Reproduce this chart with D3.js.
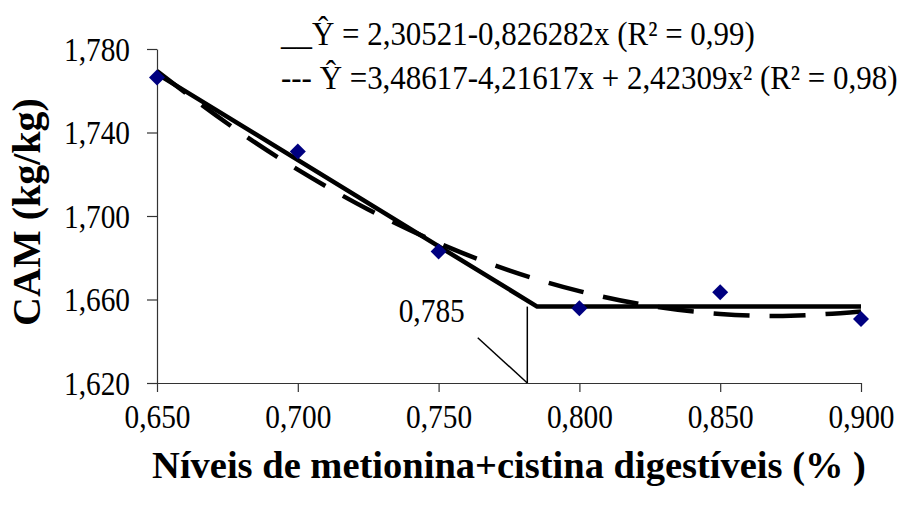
<!DOCTYPE html>
<html>
<head>
<meta charset="utf-8">
<script src="https://cdn.jsdelivr.net/npm/d3@7"></script>
<style>
  html, body { margin: 0; padding: 0; background: #fff; }
  svg { display: block; }
  text { font-family: "Liberation Serif", "Times New Roman", serif; fill: #000; }
</style>
</head>
<body>
<svg id="chart" width="904" height="510"></svg>
<script>
// ---- data ----
const levels = [0.650, 0.700, 0.750, 0.800, 0.850, 0.900];
const observedCAM = [1.7664, 1.7309, 1.6830, 1.6558, 1.6635, 1.6507];

const xTicks = [0.650, 0.700, 0.750, 0.800, 0.850, 0.900];
const yTicks = [1.620, 1.660, 1.700, 1.740, 1.780];

// linear-plateau fit (solid)
const plateauX = [0.650, 0.785, 0.900];
const plateauY = [1.7681, 1.6566, 1.6566];

// quadratic fit (dashed)
const quadX = [0.650, 0.675, 0.700, 0.725, 0.750, 0.775, 0.800, 0.825, 0.850, 0.875, 0.900];
const quadY = [1.7694, 1.7443, 1.7222, 1.7031, 1.6870, 1.6740, 1.6640, 1.6570, 1.6531, 1.6522, 1.6543];

const breakLabel = "0,785";
const breakMarkX = [0.7815, 0.7815];
const breakMarkY = [1.620, 1.6566];
const pointerX = [0.7639, 0.7815];
const pointerY = [1.6417, 1.620];

const legendLines = [
  "__\u0176 = 2,30521-0,826282x (R\u00B2 = 0,99)",
  "--- \u0176 =3,48617-4,21617x + 2,42309x\u00B2 (R\u00B2 = 0,98)"
];
const xTitle = "N\u00edveis de metionina+cistina digest\u00edveis (% )";
const yTitle = "CAM (kg/kg)";

// ---- drawing ----
const svg = d3.select("#chart");
const fmt = v => d3.format(".3f")(v).replace(".", ",");
const SX = 0.89; // horizontal condensing of the serif tick text

const x = d3.scaleLinear().domain([0.65, 0.90]).range([157, 861]);
const y = d3.scaleLinear().domain([1.62, 1.78]).range([383, 49]);

// axes
const xAxis = d3.axisBottom(x).tickValues(xTicks).tickFormat(fmt).tickSize(9).tickSizeOuter(0);
const yAxis = d3.axisLeft(y).tickValues(yTicks).tickFormat(fmt).tickSize(10).tickSizeOuter(0);

const gx = svg.append("g").attr("transform", `translate(0,${y(1.62)})`).call(xAxis);
const gy = svg.append("g").attr("transform", `translate(${x(0.65)},0)`).call(yAxis);

[gx, gy].forEach(g => {
  g.select(".domain").attr("stroke", "#333").attr("stroke-width", 1.2);
  g.selectAll(".tick line").attr("stroke", "#333").attr("stroke-width", 1.2);
  g.selectAll(".tick text")
    .style("font-family", '"Liberation Serif", serif')
    .style("font-size", "33px")
    .attr("fill", "#000")
    .attr("transform", `scale(${SX},1)`);
});
gx.selectAll(".tick text").attr("dy", "0").attr("y", 45).attr("x", 0);
gy.selectAll(".tick text").attr("x", -27 / SX).attr("dy", "0.34em");

// linear plateau (solid)
const line = d3.line().x(d => x(d[0])).y(d => y(d[1]));
svg.append("path")
  .datum(plateauX.map((v, i) => [v, plateauY[i]]))
  .attr("d", line)
  .attr("fill", "none").attr("stroke", "#000").attr("stroke-width", 4.5)
  .attr("stroke-linejoin", "round");

// quadratic (dashed)
const curve = d3.line().x(d => x(d[0])).y(d => y(d[1])).curve(d3.curveNatural);
svg.append("path")
  .datum(quadX.map((v, i) => [v, quadY[i]]))
  .attr("d", curve)
  .attr("fill", "none").attr("stroke", "#000").attr("stroke-width", 4.5)
  .attr("stroke-dasharray", "36,20");

// break marker
svg.append("path")
  .datum(breakMarkX.map((v, i) => [v, breakMarkY[i]]))
  .attr("d", line).attr("stroke", "#000").attr("stroke-width", 1.5).attr("fill", "none");
svg.append("path")
  .datum(pointerX.map((v, i) => [v, pointerY[i]]))
  .attr("d", line).attr("stroke", "#000").attr("stroke-width", 1.5).attr("fill", "none");
svg.append("text")
  .attr("transform", `translate(${x(pointerX[0]) - 13},${y(1.6535) - 3}) scale(${SX},1)`)
  .attr("text-anchor", "end").attr("dy", "0.35em")
  .style("font-size", "33px")
  .text(breakLabel);

// observed points (diamonds)
const r = 8;
svg.append("g").selectAll("path")
  .data(levels.map((v, i) => [v, observedCAM[i]]))
  .join("path")
  .attr("d", d => `M${x(d[0])},${y(d[1]) - r}L${x(d[0]) + r},${y(d[1])}L${x(d[0])},${y(d[1]) + r}L${x(d[0]) - r},${y(d[1])}Z`)
  .attr("fill", "#000080");

// legend equations
svg.append("g").selectAll("text")
  .data(legendLines)
  .join("text")
  .attr("transform", (d, i) => `translate(281,${45 + i * 44}) scale(0.91,1)`)
  .style("font-size", "34px")
  .text(d => d);

// axis titles
svg.append("text")
  .attr("transform", `translate(509,478)`)
  .attr("text-anchor", "middle")
  .style("font-size", "38.5px").style("font-weight", "bold")
  .text(xTitle);

svg.append("text")
  .attr("transform", `translate(40,${212}) rotate(-90)`)
  .attr("text-anchor", "middle")
  .style("font-size", "40px").style("font-weight", "bold")
  .text(yTitle);
</script>
</body>
</html>
